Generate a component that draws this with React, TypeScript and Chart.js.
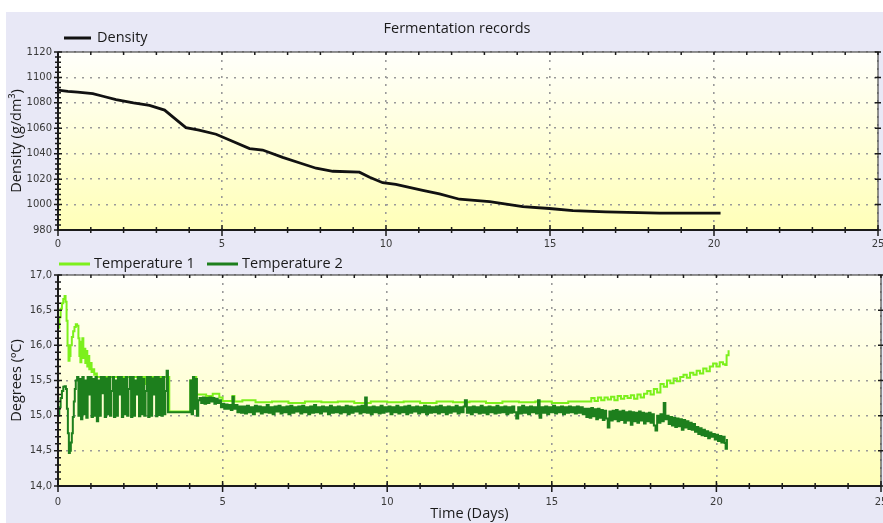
import React, { useEffect, useRef } from "react";
import { Chart, registerables } from "chart.js";

Chart.register(...registerables);

// ---------- DATA ----------
const chartTitle = "Fermentation records";
const densityLabel = "Density";
const temp1Label = "Temperature 1";
const temp2Label = "Temperature 2";
const densityAxisTitle = "Density (g/dm³)";
const tempAxisTitle = "Degrees (ºC)";
const timeAxisTitle = "Time (Days)";

const densityDays = [0, 0.3, 0.6, 1.06, 1.4, 1.77, 2.3, 2.79, 3.25, 3.5, 3.9, 4.3, 4.82, 5.3, 5.84, 6.24, 6.85, 7.4, 7.87, 8.38, 9.19, 9.5, 9.9, 10.3, 11.12, 11.63, 12.24, 13.16, 14.17, 14.98, 15.7, 16.7, 18.34, 20.2];
const densityValues = [1090, 1089, 1088.5, 1087.3, 1085, 1082.6, 1080, 1078, 1074.3, 1069, 1060.5, 1058.5, 1055.3, 1050, 1044, 1042.9, 1037.1, 1032.5, 1028.6, 1026.2, 1025.5, 1021.5, 1017.2, 1015.8, 1011.2, 1008.4, 1004.2, 1002.4, 998.4, 996.9, 995.3, 994.3, 993.2, 993.2];

const temp1: [number, number][] = [
  [0, 16.25], [0.04, 16.4], [0.08, 16.52], [0.12, 16.6], [0.16, 16.66], [0.2, 16.7], [0.23, 16.62], [0.26, 16.35], [0.29, 16.0], [0.32, 15.78],
  [0.35, 15.85], [0.38, 16.0], [0.42, 16.12], [0.46, 16.2], [0.5, 16.26], [0.54, 16.3], [0.58, 16.28], [0.62, 16.1], [0.65, 15.85], [0.68, 15.76],
  [0.71, 16.05], [0.74, 16.1], [0.77, 15.82], [0.8, 15.95], [0.83, 15.75], [0.86, 15.92], [0.89, 15.7], [0.92, 15.85], [0.95, 15.66], [0.98, 15.75],
  [1.02, 15.62], [1.06, 15.66], [1.1, 15.58], [1.14, 15.6], [1.18, 15.55], [1.5, 15.55], [1.54, 15.45], [1.58, 15.55], [2.0, 15.55], [2.04, 15.42],
  [2.08, 15.55], [2.6, 15.55], [2.64, 15.45], [2.68, 15.55], [3.34, 15.55], [3.38, 15.06], [3.98, 15.06], [4.02, 15.5], [4.08, 15.3], [4.14, 15.55],
  [4.2, 15.3], [4.28, 15.3], [4.5, 15.28], [4.7, 15.31], [4.9, 15.26], [5.0, 15.21], [5.3, 15.28], [5.36, 15.2], [5.6, 15.22],
  [6.0, 15.19], [6.5, 15.2], [7.0, 15.18], [7.5, 15.2], [8.0, 15.19], [8.5, 15.2], [9.0, 15.18], [9.5, 15.2], [10.0, 15.19], [10.5, 15.2],
  [11.0, 15.18], [11.5, 15.2], [12.0, 15.19], [12.5, 15.2], [13.0, 15.18], [13.5, 15.2], [14.0, 15.19], [14.5, 15.2], [15.0, 15.18], [15.5, 15.2],
  [16.1, 15.2], [16.2, 15.25], [16.3, 15.21], [16.4, 15.26], [16.5, 15.22], [16.6, 15.26], [16.7, 15.23], [16.8, 15.27], [16.9, 15.22], [17.0, 15.28],
  [17.1, 15.24], [17.2, 15.28], [17.3, 15.25], [17.4, 15.29], [17.5, 15.24], [17.6, 15.3], [17.7, 15.26], [17.8, 15.31], [17.9, 15.35], [18.0, 15.3],
  [18.1, 15.38], [18.2, 15.33], [18.3, 15.45], [18.4, 15.41], [18.5, 15.5], [18.6, 15.46], [18.7, 15.53], [18.8, 15.49], [18.9, 15.55], [19.0, 15.58],
  [19.1, 15.54], [19.2, 15.61], [19.3, 15.58], [19.4, 15.64], [19.5, 15.6], [19.6, 15.67], [19.7, 15.63], [19.8, 15.7], [19.9, 15.74], [20.0, 15.7],
  [20.1, 15.76], [20.2, 15.73], [20.27, 15.72], [20.31, 15.86], [20.37, 15.93],
];

const temp2: [number, number][] = [
  [0, 15.0], [0.04, 15.12], [0.08, 15.25], [0.12, 15.35], [0.16, 15.41], [0.2, 15.42], [0.24, 15.38], [0.27, 15.1], [0.3, 14.75], [0.33, 14.47],
  [0.36, 14.5], [0.39, 14.62], [0.42, 14.75], [0.45, 14.98], [0.48, 15.2], [0.51, 15.38], [0.54, 15.5],
  [0.58, 15.55], [0.62, 15.0], [0.66, 15.52], [0.7, 14.95], [0.74, 15.55], [0.78, 15.02], [0.82, 15.5], [0.86, 14.97], [0.9, 15.55], [0.94, 15.3],
  [0.98, 15.55], [1.02, 14.98], [1.06, 15.52], [1.1, 15.0], [1.14, 15.55], [1.18, 14.92], [1.22, 15.5], [1.26, 15.0], [1.3, 15.55], [1.34, 15.32],
  [1.38, 15.55], [1.42, 14.98], [1.46, 15.53], [1.5, 15.02], [1.54, 15.55], [1.58, 15.0], [1.62, 15.35], [1.66, 15.55], [1.7, 14.98], [1.74, 15.5],
  [1.78, 15.0], [1.82, 15.55], [1.86, 15.3], [1.9, 15.55], [1.94, 14.98], [1.98, 15.52], [2.02, 15.02], [2.06, 15.55], [2.1, 15.0], [2.14, 15.38],
  [2.18, 15.55], [2.22, 14.98], [2.26, 15.55], [2.3, 15.0], [2.34, 15.5], [2.38, 15.3], [2.42, 15.55], [2.46, 14.99], [2.5, 15.55], [2.54, 15.02],
  [2.58, 15.52], [2.62, 15.0], [2.66, 15.35], [2.7, 15.55], [2.74, 14.98], [2.78, 15.55], [2.82, 15.0], [2.86, 15.53], [2.9, 15.3], [2.94, 15.55],
  [2.98, 14.99], [3.02, 15.55], [3.06, 15.01], [3.1, 15.52], [3.14, 15.0], [3.18, 15.55], [3.22, 15.02], [3.26, 15.35], [3.3, 15.64], [3.34, 15.05],
  [3.98, 15.05], [4.02, 15.5], [4.06, 15.02], [4.1, 15.55], [4.14, 15.1], [4.18, 15.52], [4.22, 15.0], [4.26, 15.22],
  [4.3, 15.25], [4.35, 15.18], [4.4, 15.26], [4.45, 15.17], [4.5, 15.25], [4.55, 15.18], [4.6, 15.26], [4.65, 15.2], [4.7, 15.25], [4.75, 15.17],
  [4.8, 15.24], [4.85, 15.18], [4.9, 15.22], [4.95, 15.12], [5.0, 15.17], [5.05, 15.1], [5.1, 15.16], [5.15, 15.1], [5.2, 15.15], [5.25, 15.08],
  [5.3, 15.27], [5.34, 15.1], [5.4, 15.15], [5.45, 15.05], [5.5, 15.13],
  [5.56, 15.04], [5.62, 15.13], [5.68, 15.03], [5.74, 15.14], [5.8, 15.05], [5.86, 15.12], [5.92, 15.02], [5.98, 15.14], [6.04, 15.06], [6.1, 15.13],
  [6.16, 15.03], [6.22, 15.12], [6.28, 15.05], [6.34, 15.15], [6.4, 15.04], [6.46, 15.12], [6.52, 15.02], [6.58, 15.13], [6.64, 15.06], [6.7, 15.14],
  [6.76, 15.03], [6.82, 15.12], [6.88, 15.05], [6.94, 15.13], [7.0, 15.02], [7.06, 15.14], [7.12, 15.04], [7.18, 15.12], [7.24, 15.06], [7.3, 15.13],
  [7.36, 15.03], [7.42, 15.14], [7.48, 15.05], [7.54, 15.12], [7.6, 15.02], [7.66, 15.13], [7.72, 15.04], [7.78, 15.15], [7.84, 15.05], [7.9, 15.12],
  [7.96, 15.03], [8.02, 15.13], [8.08, 15.06], [8.14, 15.12], [8.2, 15.02], [8.26, 15.14], [8.32, 15.04], [8.38, 15.12], [8.44, 15.05], [8.5, 15.13],
  [8.56, 15.03], [8.62, 15.12], [8.68, 15.05], [8.74, 15.14], [8.8, 15.02], [8.86, 15.13], [8.92, 15.04], [8.98, 15.12], [9.04, 15.06], [9.1, 15.13],
  [9.16, 15.03], [9.22, 15.14], [9.28, 15.05], [9.33, 15.26], [9.38, 15.04], [9.44, 15.12], [9.5, 15.02], [9.56, 15.13], [9.62, 15.05], [9.68, 15.12],
  [9.74, 15.03], [9.8, 15.14], [9.86, 15.04], [9.92, 15.12], [9.98, 15.06], [10.04, 15.13], [10.1, 15.02], [10.16, 15.12], [10.22, 15.05], [10.28, 15.14],
  [10.34, 15.03], [10.4, 15.12], [10.46, 15.05], [10.52, 15.13], [10.58, 15.02], [10.64, 15.14], [10.7, 15.04], [10.76, 15.12], [10.82, 15.06], [10.88, 15.13],
  [10.94, 15.03], [11.0, 15.12], [11.06, 15.05], [11.12, 15.14], [11.18, 15.02], [11.24, 15.13], [11.3, 15.04], [11.36, 15.12], [11.42, 15.05], [11.48, 15.13],
  [11.54, 15.03], [11.6, 15.14], [11.66, 15.05], [11.72, 15.12], [11.78, 15.02], [11.84, 15.13], [11.9, 15.04], [11.96, 15.12], [12.02, 15.06], [12.08, 15.14],
  [12.14, 15.03], [12.2, 15.12], [12.26, 15.05], [12.32, 15.13], [12.36, 15.22], [12.42, 15.04], [12.48, 15.12], [12.54, 15.02], [12.6, 15.13], [12.66, 15.05],
  [12.72, 15.12], [12.78, 15.03], [12.84, 15.14], [12.9, 15.04], [12.96, 15.12], [13.02, 15.02], [13.08, 15.13], [13.14, 15.05], [13.2, 15.12], [13.26, 15.03],
  [13.32, 15.14], [13.38, 15.04], [13.44, 15.12], [13.5, 15.05], [13.56, 15.13], [13.62, 15.02], [13.68, 15.12], [13.74, 15.04], [13.8, 15.13], [13.86, 15.05],
  [13.92, 14.96], [13.98, 15.12], [14.04, 15.03], [14.1, 15.14], [14.16, 15.04], [14.22, 15.12], [14.28, 15.02], [14.34, 15.13], [14.4, 15.05], [14.46, 15.12],
  [14.52, 15.03], [14.58, 15.22], [14.63, 14.97], [14.68, 15.12], [14.74, 15.04], [14.8, 15.13], [14.86, 15.02], [14.92, 15.12], [14.98, 15.05], [15.04, 15.14],
  [15.1, 15.03], [15.16, 15.12], [15.22, 15.05], [15.28, 15.13], [15.34, 15.02], [15.4, 15.12], [15.46, 15.04], [15.52, 15.13], [15.58, 15.05], [15.64, 15.12],
  [15.7, 15.03], [15.76, 15.13], [15.82, 15.04], [15.88, 15.12], [15.94, 15.02], [16.0, 15.1],
  [16.05, 14.98], [16.1, 15.1], [16.15, 14.97], [16.2, 15.11], [16.25, 14.99], [16.3, 15.09], [16.35, 14.95], [16.4, 15.1], [16.45, 14.97], [16.5, 15.08],
  [16.55, 14.94], [16.6, 15.07], [16.65, 14.96], [16.7, 14.83], [16.75, 15.06], [16.8, 14.93], [16.85, 15.07], [16.9, 14.95], [16.95, 15.08], [17.0, 14.92],
  [17.05, 15.06], [17.1, 14.94], [17.15, 15.07], [17.2, 14.9], [17.25, 15.05], [17.3, 14.93], [17.35, 15.06], [17.4, 14.87], [17.45, 15.05], [17.5, 14.92],
  [17.55, 15.04], [17.6, 14.9], [17.65, 15.06], [17.7, 14.93], [17.75, 15.04], [17.8, 14.89], [17.85, 15.03], [17.9, 14.92], [17.95, 15.04], [18.0, 14.9],
  [18.05, 15.02], [18.1, 14.86], [18.15, 14.79], [18.2, 15.0], [18.25, 14.9], [18.3, 15.02], [18.35, 14.92], [18.4, 15.18], [18.45, 14.95], [18.5, 15.0],
  [18.55, 14.88], [18.6, 14.98], [18.65, 14.86], [18.7, 14.97], [18.75, 14.84], [18.8, 14.96], [18.85, 14.85], [18.9, 14.95], [18.95, 14.8], [19.0, 14.94],
  [19.05, 14.83], [19.1, 14.92], [19.15, 14.81], [19.2, 14.9], [19.25, 14.8], [19.3, 14.88], [19.35, 14.77], [19.4, 14.84], [19.45, 14.74], [19.5, 14.82],
  [19.55, 14.72], [19.6, 14.8], [19.65, 14.71], [19.7, 14.78], [19.75, 14.68], [19.8, 14.76], [19.85, 14.7], [19.9, 14.74], [19.95, 14.66], [20.0, 14.73],
  [20.05, 14.64], [20.1, 14.71], [20.15, 14.62], [20.2, 14.7], [20.25, 14.61], [20.28, 14.53], [20.32, 14.67],
];

const xTicksStep = 5;
const densityTicks = { min: 980, max: 1120, step: 20, minor: 4 };
const tempTicks = { min: 14, max: 17, step: 0.5, minor: 0.1 };

// ---------- STYLE ----------
const FONT = "'Open Sans', 'DejaVu Sans', sans-serif";
const TICK_FONT = { family: "'DejaVu Sans', sans-serif", size: 10 };
const TICK_COLOR = "#3a3a3a";
const GRID_COLOR = "#9a9a9a";
const COLOR_DENSITY = "#111111";
const COLOR_T1 = "#7cf01c";
const COLOR_T2 = "#1d7f1d";

type LegendItem = { label: string; color: string; x1: number; x2: number; tx: number; y: number };
type DecoCfg = {
  legend: LegendItem[];
  title?: { text: string; x: number; y: number };
  yMinor: number;
};

function makeDeco(cfg: DecoCfg) {
  return {
    id: "deco",
    beforeDraw(chart: any) {
      const { ctx, chartArea: a } = chart;
      const g = ctx.createLinearGradient(0, a.top, 0, a.bottom);
      g.addColorStop(0, "#fffffb");
      g.addColorStop(1, "#ffffb8");
      ctx.save();
      ctx.fillStyle = g;
      ctx.fillRect(a.left, a.top, a.right - a.left, a.bottom - a.top);
      ctx.restore();
    },
    afterDraw(chart: any) {
      const { ctx, chartArea: a } = chart;
      const xs = chart.scales.x;
      const ys = chart.scales.y;
      ctx.save();
      // frame
      ctx.strokeStyle = "#4a4a4a";
      ctx.lineWidth = 1.2;
      ctx.strokeRect(a.left, a.top, a.right - a.left, a.bottom - a.top);
      ctx.strokeStyle = "#1a1a1a";
      ctx.lineWidth = 2;
      ctx.beginPath();
      ctx.moveTo(a.left, a.top);
      ctx.lineTo(a.left, a.bottom);
      ctx.lineTo(a.right, a.bottom);
      ctx.stroke();
      // x ticks
      ctx.lineWidth = 1.5;
      ctx.beginPath();
      for (let d = Math.round(xs.min); d <= xs.max; d++) {
        const px = xs.getPixelForValue(d);
        const major = d % xTicksStep === 0;
        ctx.moveTo(px, a.bottom - (major ? 5 : 3));
        ctx.lineTo(px, a.bottom + (major ? 6 : 3));
        ctx.moveTo(px, a.top);
        ctx.lineTo(px, a.top + 3);
      }
      // y ticks
      const n = Math.round((ys.max - ys.min) / cfg.yMinor);
      const per = Math.round(n / ((ys.max - ys.min) / ys.options.ticks.stepSize));
      for (let i = 0; i <= n; i++) {
        const py = ys.getPixelForValue(ys.min + i * cfg.yMinor);
        const major = i % per === 0;
        ctx.moveTo(a.left - (major ? 4 : 3), py);
        ctx.lineTo(a.left + (major ? 4 : 3), py);
        if (major) {
          ctx.moveTo(a.right - 3, py);
          ctx.lineTo(a.right + 3, py);
        }
      }
      ctx.stroke();
      // legend
      ctx.textBaseline = "middle";
      ctx.textAlign = "left";
      ctx.font = `14.5px ${FONT}`;
      for (const it of cfg.legend) {
        ctx.strokeStyle = it.color;
        ctx.lineWidth = 3;
        ctx.beginPath();
        ctx.moveTo(it.x1, it.y);
        ctx.lineTo(it.x2, it.y);
        ctx.stroke();
        ctx.fillStyle = "#1a1a1a";
        ctx.fillText(it.label, it.tx, it.y - 0.5);
      }
      if (cfg.title) {
        ctx.textAlign = "center";
        ctx.fillStyle = "#1a1a1a";
        ctx.fillText(cfg.title.text, cfg.title.x, cfg.title.y);
      }
      ctx.restore();
    },
  };
}

function xScale(padding: number, height: number, title?: string) {
  return {
    type: "linear" as const,
    min: 0,
    max: 25,
    ticks: { stepSize: xTicksStep, padding, font: TICK_FONT, color: TICK_COLOR, maxRotation: 0 },
    grid: { drawTicks: false, color: GRID_COLOR, lineWidth: 1.6 },
    border: { display: false, dash: [2, 6] },
    title: title
      ? { display: true, text: title, font: { family: FONT, size: 14.5 }, color: "#1a1a1a", padding: { top: 0, bottom: 0 } }
      : { display: false },
    afterFit: (s: any) => {
      s.height = height;
      s.paddingRight = 0;
      s.paddingLeft = 0;
    },
  };
}

function yScale(min: number, max: number, step: number, title: string, fmt: (v: number) => string) {
  return {
    type: "linear" as const,
    min,
    max,
    ticks: { stepSize: step, padding: 6, font: TICK_FONT, color: TICK_COLOR, callback: (v: any) => fmt(Number(v)) },
    grid: { drawTicks: false, color: GRID_COLOR, lineWidth: 1.6 },
    border: { display: false, dash: [2, 6] },
    title: { display: true, text: title, font: { family: FONT, size: 14.5 }, color: "#1a1a1a", padding: { top: 8, bottom: 0 } },
    afterFit: (s: any) => {
      s.width = 58;
    },
  };
}

export default function App() {
  const topRef = useRef<HTMLCanvasElement>(null);
  const botRef = useRef<HTMLCanvasElement>(null);

  useEffect(() => {
    if (!topRef.current || !botRef.current) return;
    const top = new Chart(topRef.current, {
      type: "line",
      data: {
        datasets: [
          {
            label: densityLabel,
            data: densityDays.map((d, i) => ({ x: d, y: densityValues[i] })),
            borderColor: COLOR_DENSITY,
            borderWidth: 2.8,
            pointRadius: 0,
            tension: 0,
          },
        ],
      },
      options: {
        animation: false,
        responsive: false,
        maintainAspectRatio: false,
        layout: { padding: { top: 52, right: 5, left: 0, bottom: 0 }, autoPadding: false },
        plugins: { legend: { display: false }, tooltip: { enabled: false }, title: { display: false } },
        scales: {
          x: xScale(8, 20) as any,
          y: yScale(densityTicks.min, densityTicks.max, densityTicks.step, densityAxisTitle, (v) => String(v)) as any,
        },
      },
      plugins: [
        makeDeco({
          legend: [{ label: densityLabel, color: COLOR_DENSITY, x1: 64, x2: 91, tx: 97, y: 38 }],
          title: { text: chartTitle, x: 457, y: 29 },
          yMinor: densityTicks.minor,
        }) as any,
      ],
    });

    const bot = new Chart(botRef.current, {
      type: "line",
      data: {
        datasets: [
          {
            label: temp1Label,
            data: temp1.map(([x, y]) => ({ x, y })),
            borderColor: COLOR_T1,
            borderWidth: 2,
            pointRadius: 0,
            stepped: true,
            order: 1,
          },
          {
            label: temp2Label,
            data: temp2.map(([x, y]) => ({ x, y })),
            borderColor: COLOR_T2,
            borderWidth: 2,
            pointRadius: 0,
            stepped: true,
            order: 0,
          },
        ],
      },
      options: {
        animation: false,
        responsive: false,
        maintainAspectRatio: false,
        layout: { padding: { top: 25, right: 2, left: 0, bottom: 0 }, autoPadding: false },
        plugins: { legend: { display: false }, tooltip: { enabled: false }, title: { display: false } },
        scales: {
          x: xScale(10, 37, timeAxisTitle) as any,
          y: yScale(tempTicks.min, tempTicks.max, tempTicks.step, tempAxisTitle, (v) => v.toFixed(1).replace(".", ",")) as any,
        },
      },
      plugins: [
        makeDeco({
          legend: [
            { label: temp1Label, color: COLOR_T1, x1: 59, x2: 90, tx: 94, y: 14 },
            { label: temp2Label, color: COLOR_T2, x1: 207, x2: 238, tx: 242, y: 14 },
          ],
          yMinor: tempTicks.minor,
        }) as any,
      ],
    });

    return () => {
      top.destroy();
      bot.destroy();
    };
  }, []);

  return (
    <div style={{ position: "fixed", left: 0, top: 0, width: 883, height: 523, background: "#ffffff", overflow: "hidden" }}>
      <div style={{ position: "absolute", left: 6, top: 12, right: 0, bottom: 0, background: "#e8e8f6" }} />
      <canvas ref={topRef} width={883} height={250} style={{ position: "absolute", left: 0, top: 0 }} />
      <canvas ref={botRef} width={883} height={273} style={{ position: "absolute", left: 0, top: 250 }} />
    </div>
  );
}
